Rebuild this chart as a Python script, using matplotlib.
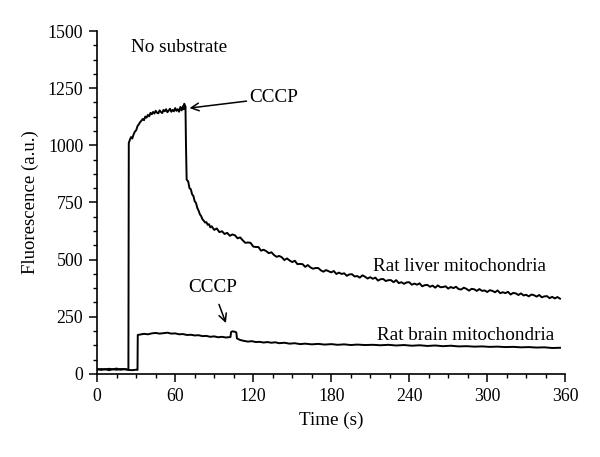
import matplotlib
matplotlib.use("Agg")
import matplotlib.pyplot as plt
from matplotlib.ticker import MultipleLocator, AutoMinorLocator

plt.rcParams['font.family'] = ['Liberation Serif', 'DejaVu Serif']

# ---- Rat liver mitochondria trace ----
liver_t = [0, 3, 6, 9, 12, 15, 18, 21, 24,
           24.3, 25, 26, 27, 28, 29, 30, 31, 32, 33, 34, 35, 36, 37, 38, 39, 40,
           41, 42, 43, 44, 45, 46, 47, 48, 49, 50, 51, 52, 53, 54, 55, 56, 57,
           58, 59, 60, 61, 62, 63, 64, 65, 66, 66.5, 67, 67.5, 67.9,
           68.3, 68.8, 70, 71, 72, 73, 74, 75, 76, 77, 78, 79, 80, 81, 82, 83,
           84, 85, 86, 87, 88, 90, 92, 94, 96, 98, 100, 102, 104,
           106, 108, 110, 112, 114, 116, 118, 120, 122, 124, 126, 128, 130, 132,
           134, 136, 138, 140, 142, 144, 146, 148, 150, 152, 154, 156, 158, 160,
           162, 164, 166, 168, 170, 172, 174, 176, 178, 180, 182, 184, 186, 188,
           190, 192, 194, 196, 198, 200, 202, 204, 206, 208, 210, 212, 214, 216,
           218, 220, 222, 224, 226, 228, 230, 232, 234, 236, 238, 240, 242, 244,
           246, 248, 250, 252, 254, 256, 258, 260, 262, 264, 266, 268, 270, 272,
           274, 276, 278, 280, 282, 284, 286, 288, 290, 292, 294, 296, 298, 300,
           302, 304, 306, 308, 310, 312, 314, 316, 318, 320, 322, 324, 326, 328,
           330, 332, 334, 336, 338, 340, 342, 344, 346, 348, 350, 352, 354, 356]
liver_v = [18, 21, 19, 22, 20, 18, 21, 20, 19,
           1010, 1022, 1036, 1030, 1048, 1060, 1066, 1084, 1092, 1101, 1108, 1115, 1110, 1126, 1121, 1133, 1127,
           1142, 1136, 1146, 1139, 1151, 1143, 1140, 1153, 1146, 1141, 1155, 1149, 1158, 1145, 1152, 1160, 1147,
           1155, 1149, 1163, 1151, 1158, 1147, 1168, 1153, 1172, 1158, 1182, 1165, 1170,
           1000, 850, 842, 812, 808, 786, 778, 755, 748, 726, 714, 698, 690, 676, 670, 662,
           664, 652, 655, 641, 646, 630, 636, 620, 624, 612, 617, 604, 610,
           606, 593, 597, 584, 573, 575, 573, 557, 555, 555, 539, 543, 537, 528,
           532, 520, 512, 516, 510, 498, 505, 496, 489, 495, 480, 481, 480, 468,
           476, 466, 460, 463, 463, 453, 447, 454, 449, 444, 450, 437, 443, 437,
           440, 429, 435, 436, 426, 428, 421, 431, 425, 417, 423, 416, 421, 408,
           414, 415, 406, 410, 410, 401, 410, 397, 401, 394, 400, 401, 390, 395,
           390, 396, 383, 388, 389, 381, 386, 377, 387, 379, 380, 383, 373, 380,
           375, 381, 371, 369, 377, 372, 364, 372, 370, 363, 371, 363, 365, 358,
           366, 363, 357, 365, 353, 357, 353, 359, 347, 354, 352, 345, 352, 343,
           346, 339, 347, 344, 338, 345, 335, 339, 340, 331, 337, 330, 336, 329]

# ---- Rat brain mitochondria trace ----
brain_t = [0, 3, 6, 9, 12, 15, 18, 21, 24, 27, 30, 31.0,
           31.2, 33, 36, 39, 42, 45, 48, 51, 54, 57, 60, 63, 66, 69, 72, 75, 78,
           81, 84, 87, 90, 93, 96, 99, 102.5,
           103, 104, 106, 107, 107.5, 110, 113, 116, 119, 122, 125, 128, 131, 134,
           137, 140, 144, 148, 152, 156, 160, 165, 170, 175, 180, 185, 190, 195,
           200, 206, 212, 218, 224, 230, 236, 242, 248, 254, 260, 266, 272, 278,
           284, 290, 296, 302, 308, 314, 320, 326, 332, 338, 344, 350, 356]
brain_v = [22, 17, 21, 16, 20, 23, 18, 21, 17, 16, 18, 17,
           170, 172, 175, 173, 177, 179, 176, 178, 180, 176, 177, 173, 174, 170, 171, 168, 169,
           165, 166, 162, 164, 160, 162, 159, 161,
           183, 186, 184, 181, 155, 148, 144, 141, 143, 139, 140, 137, 139, 136,
           138, 134, 136, 132, 134, 130, 132, 129, 131, 128, 130, 127, 129, 126,
           128, 126, 127, 125, 127, 124, 126, 123, 125, 122, 124, 121, 123, 120,
           121, 119, 120, 118, 119, 117, 118, 116, 117, 115, 116, 113, 114]

fig = plt.figure(figsize=(6.0, 4.57), dpi=100)
ax = fig.add_axes([0.162, 0.182, 0.78, 0.750])

ax.plot(liver_t, liver_v, color='black', lw=1.4)
ax.plot(brain_t, brain_v, color='black', lw=1.4)

ax.set_xlim(0, 360)
ax.set_ylim(0, 1500)
ax.xaxis.set_major_locator(MultipleLocator(60))
ax.xaxis.set_minor_locator(AutoMinorLocator(4))
ax.yaxis.set_major_locator(MultipleLocator(250))
ax.yaxis.set_minor_locator(AutoMinorLocator(4))
for s in ['top', 'right']:
    ax.spines[s].set_visible(False)
for s in ['left', 'bottom']:
    ax.spines[s].set_linewidth(1.2)
ax.tick_params(which='major', direction='out', length=6, width=1.1, labelsize=12.8, pad=4)
ax.tick_params(which='minor', direction='out', length=3, width=1.0)

ax.set_xlabel('Time (s)', fontsize=13.8, labelpad=5)
ax.set_ylabel('Fluorescence (a.u.)', fontsize=13.5, labelpad=6)

ax.text(26, 1430, 'No substrate', fontsize=13.8, ha='left', va='center')
ax.annotate('CCCP', xy=(71, 1163), xytext=(117, 1208), fontsize=13.8,
            ha='left', va='center',
            arrowprops=dict(arrowstyle='->', color='black', lw=1.1,
                            shrinkA=0, shrinkB=0))
ax.annotate('CCCP', xy=(99, 222), xytext=(89, 376), fontsize=13.8,
            ha='center', va='center',
            arrowprops=dict(arrowstyle='->', color='black', lw=1.1,
                            shrinkA=4, shrinkB=0))
ax.text(278.5, 469, 'Rat liver mitochondria', fontsize=13.8, ha='center', va='center')
ax.text(283.5, 168, 'Rat brain mitochondria', fontsize=13.8, ha='center', va='center')

fig.savefig('out.png', dpi=100)
